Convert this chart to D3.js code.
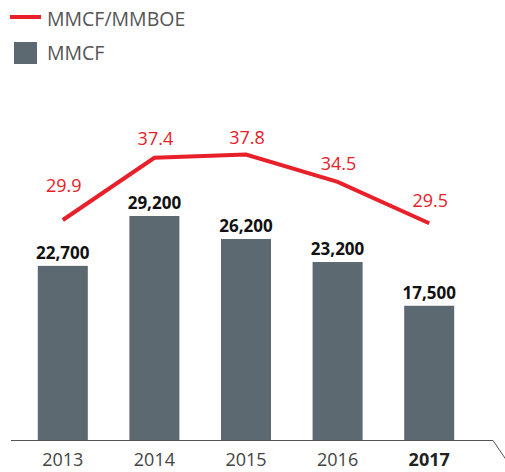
<!DOCTYPE html>
<html>
<head>
<meta charset="utf-8">
<script src="https://cdn.jsdelivr.net/npm/d3@7.9.0/dist/d3.min.js"></script>
<style>
  body { margin: 0; background: #fff; }
  svg { display: block; font-family: "Open Sans", sans-serif; }
</style>
</head>
<body>
<svg id="chart" width="505" height="472"></svg>
<script>
const years = ['2013', '2014', '2015', '2016', '2017'];
const mmcf = [22700, 29200, 26200, 23200, 17500];
const ratio = [29.9, 37.4, 37.8, 34.5, 29.5];
// label nudges for the red line values (px above the point)
const ratioLabelDy = [28, 13, 11, 12, 16];

const svg = d3.select('#chart');
const red = '#e8202a';
const barColor = '#5d6970';

const x = d3.scaleBand()
    .domain(years)
    .range([17, 475])
    .paddingInner(0.454)
    .paddingOuter(0.227);

const y = d3.scaleLinear().domain([0, 29200]).range([440, 216]);
const y2 = d3.scaleLinear().domain([29.5, 37.8]).range([223.3, 154.5]);

// bars
svg.append('g')
    .selectAll('rect')
    .data(mmcf)
    .join('rect')
    .attr('x', (d, i) => x(years[i]))
    .attr('y', d => y(d))
    .attr('width', x.bandwidth())
    .attr('height', d => y(0) - y(d))
    .attr('fill', barColor);

svg.append('g')
    .selectAll('text')
    .data(mmcf)
    .join('text')
    .attr('x', (d, i) => x(years[i]) + x.bandwidth() / 2)
    .attr('y', d => y(d) - 7)
    .attr('text-anchor', 'middle')
    .attr('font-size', 17)
    .attr('font-weight', 'bold')
    .attr('fill', '#111')
    .text(d => d3.format(',')(d));

// line
const line = d3.line()
    .x((d, i) => x(years[i]) + x.bandwidth() / 2)
    .y(d => y2(d));

svg.append('path')
    .datum(ratio)
    .attr('d', line)
    .attr('fill', 'none')
    .attr('stroke', red)
    .attr('stroke-width', 4);

svg.append('g')
    .selectAll('text')
    .data(ratio)
    .join('text')
    .attr('x', (d, i) => x(years[i]) + x.bandwidth() / 2 + 1)
    .attr('y', (d, i) => y2(d) - ratioLabelDy[i])
    .attr('text-anchor', 'middle')
    .attr('font-size', 18)
    .attr('fill', red)
    .text(d => d.toFixed(1));

// axis
const axis = d3.axisBottom(x).tickSize(0).tickPadding(13);
const gx = svg.append('g')
    .attr('transform', 'translate(0,440)')
    .call(axis);
gx.select('.domain').remove();
gx.selectAll('text')
    .attr('font-size', 18)
    .attr('font-family', '"Open Sans", sans-serif')
    .attr('fill', '#444')
    .attr('font-weight', d => d === '2017' ? 'bold' : 'normal')
    .attr('fill', d => d === '2017' ? '#222' : '#444');

svg.append('path')
    .attr('d', 'M11,440.5H493L509,464')
    .attr('fill', 'none')
    .attr('stroke', '#555')
    .attr('stroke-width', 1);

// legend
const legend = svg.append('g');
legend.append('line')
    .attr('x1', 10).attr('x2', 41)
    .attr('y1', 17).attr('y2', 17)
    .attr('stroke', red).attr('stroke-width', 4);
legend.append('text')
    .attr('x', 47).attr('y', 26)
    .attr('font-size', 19.5)
    .attr('fill', '#555')
    .text('MMCF/MMBOE');
legend.append('rect')
    .attr('x', 14).attr('y', 42)
    .attr('width', 23).attr('height', 22)
    .attr('fill', barColor);
legend.append('text')
    .attr('x', 47).attr('y', 60)
    .attr('font-size', 19.5)
    .attr('fill', '#555')
    .text('MMCF');
</script>
</body>
</html>
